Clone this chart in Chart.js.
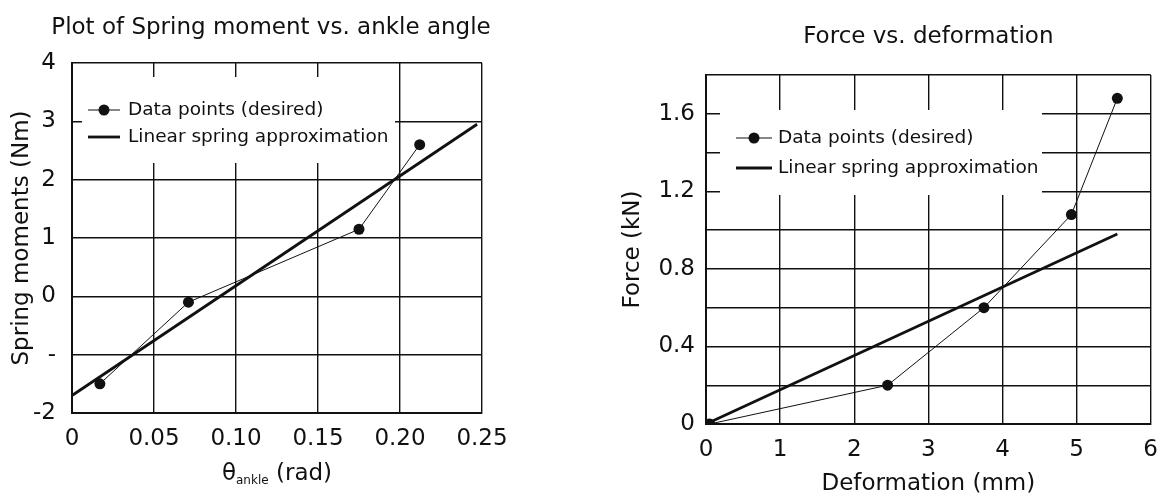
<!DOCTYPE html>
<html>
<head>
<meta charset="utf-8">
<script src="https://cdn.jsdelivr.net/npm/chart.js@4.4.1/dist/chart.umd.min.js"></script>
<style>
  html, body { margin: 0; padding: 0; background: #fff; overflow: hidden; width: 1157px; height: 499px; }
  canvas { position: absolute; top: 0; }
  #moment-chart { left: 0; }
  #force-chart { left: 580px; }
</style>
</head>
<body>
<canvas id="moment-chart" width="542" height="499"></canvas>
<canvas id="force-chart" width="590" height="499"></canvas>
<script>
// left chart: spring moment vs ankle angle
const angleX = [0.017, 0.071, 0.175, 0.212];
const momentY = [-1.5, -0.1, 1.15, 2.6];
const angleFitX = [0, 0.247];
const momentFitY = [-1.7, 2.95];
const angleTickLabels = ["0", "0.05", "0.10", "0.15", "0.20", "0.25"];
const momentTickLabels = ["-2", "-", "0", "1", "2", "3", "4"];

// right chart: force vs deformation
const deformX = [0.05, 2.45, 3.75, 4.93, 5.55];
const forceY = [0, 0.2, 0.6, 1.08, 1.68];
const deformFitX = [0, 5.55];
const forceFitY = [0, 0.98];
const deformTickLabels = ["0", "1", "2", "3", "4", "5", "6"];
const forceTickLabels = ["0", "0.4", "0.8", "1.2", "1.6"];

const seriesLabels = ["Data points (desired)", "Linear spring approximation"];

const FONT = "'DejaVu Sans', sans-serif";
const INK = "#111";

Chart.defaults.font.family = FONT;
Chart.defaults.color = INK;

const toPoints = (xs, ys) => xs.map((x, i) => ({ x: x, y: ys[i] }));

// white box with the two legend rows, drawn over the grid inside the plot
const insetLegend = {
  id: "insetLegend",
  beforeDatasetsDraw(chart, args, opts) {
    const { ctx, chartArea } = chart;
    ctx.save();
    ctx.fillStyle = "#fff";
    ctx.fillRect(chartArea.left + opts.box[0], chartArea.top + opts.box[1], opts.box[2], opts.box[3]);
    ctx.restore();
  },
  afterDatasetsDraw(chart, args, opts) {
    const { ctx, chartArea } = chart;
    const x0 = chartArea.left + opts.lineX[0];
    const x1 = chartArea.left + opts.lineX[1];
    ctx.save();
    chart.data.datasets.forEach((ds, i) => {
      const y = chartArea.top + opts.rows[i];
      ctx.strokeStyle = INK;
      ctx.lineWidth = ds.borderWidth;
      ctx.beginPath();
      ctx.moveTo(x0, y);
      ctx.lineTo(x1, y);
      ctx.stroke();
      if (ds.pointRadius > 0) {
        ctx.fillStyle = INK;
        ctx.beginPath();
        ctx.arc((x0 + x1) / 2, y, ds.pointRadius, 0, Math.PI * 2);
        ctx.fill();
      }
      ctx.fillStyle = INK;
      ctx.font = opts.fontSize + "px " + FONT;
      ctx.textBaseline = "middle";
      ctx.textAlign = "left";
      ctx.fillText(ds.label, chartArea.left + opts.textX, y);
    });
    ctx.restore();
  }
};

// theta with "ankle" as subscript under the left x axis
const thetaTitle = {
  id: "thetaTitle",
  afterDraw(chart, args, opts) {
    if (!opts.y) return;
    const { ctx, chartArea } = chart;
    const big = "23px " + FONT;
    const small = "12px " + FONT;
    ctx.save();
    ctx.fillStyle = INK;
    ctx.textBaseline = "alphabetic";
    ctx.font = big;
    const wTheta = ctx.measureText("\u03b8").width;
    const wRest = ctx.measureText(" (rad)").width;
    ctx.font = small;
    const wSub = ctx.measureText("ankle").width;
    let x = (chartArea.left + chartArea.right) / 2 - (wTheta + wSub + wRest) / 2;
    const base = opts.y;
    ctx.font = big;
    ctx.fillText("\u03b8", x, base);
    x += wTheta;
    ctx.font = small;
    ctx.fillText("ankle", x, base + 4);
    x += wSub;
    ctx.font = big;
    ctx.fillText(" (rad)", x, base);
    ctx.restore();
  }
};

function gridOpts() {
  return { color: INK, lineWidth: 1.4, drawTicks: false };
}

function makeChart(canvasId, cfg) {
  const scales = {
    x: {
      type: "linear",
      min: cfg.xMin,
      max: cfg.xMax,
      afterFit: (scale) => { scale.height = cfg.xHeight; },
      ticks: {
        stepSize: cfg.xStep,
        padding: 12,
        maxRotation: 0,
        font: { size: 23 },
        callback: cfg.xTick
      },
      grid: gridOpts(),
      border: { color: INK, width: 2 },
      title: cfg.xTitle
    },
    y: {
      type: "linear",
      min: cfg.yMin,
      max: cfg.yMax,
      afterFit: (scale) => { scale.width = cfg.yWidth; },
      ticks: {
        stepSize: cfg.yStep,
        padding: cfg.yTickPad,
        font: { size: 23 },
        callback: cfg.yTick
      },
      grid: gridOpts(),
      border: { color: INK, width: 2 },
      title: {
        display: true,
        text: cfg.yTitle,
        font: { size: 23 },
        padding: { top: cfg.yTitlePad, bottom: 0 }
      }
    }
  };
  // empty right-hand axis: keeps room on the right without narrowing the title
  if (cfg.spacer) {
    scales.spacer = {
      type: "linear",
      position: "right",
      afterFit: (scale) => { scale.width = cfg.spacer; },
      ticks: { display: false },
      grid: { display: false },
      border: { display: false }
    };
  }
  return new Chart(document.getElementById(canvasId), {
    type: "scatter",
    data: {
      datasets: [
        {
          label: seriesLabels[0],
          data: toPoints(cfg.xs, cfg.ys),
          showLine: true,
          borderColor: INK,
          backgroundColor: INK,
          borderWidth: 1,
          pointRadius: 5.5,
          pointBorderWidth: 0
        },
        {
          label: seriesLabels[1],
          data: toPoints(cfg.fitXs, cfg.fitYs),
          showLine: true,
          borderColor: INK,
          backgroundColor: INK,
          borderWidth: 2.8,
          pointRadius: 0
        }
      ]
    },
    options: {
      responsive: false,
      animation: false,
      events: [],
      layout: { padding: { left: 0, right: cfg.padRight, top: 0, bottom: 0 } },
      scales: scales,
      plugins: {
        legend: { display: false },
        tooltip: { enabled: false },
        title: {
          display: true,
          fullSize: cfg.titleFull,
          text: cfg.title,
          color: INK,
          font: { size: 23, weight: "normal" },
          padding: cfg.titlePad
        },
        insetLegend: cfg.legend,
        thetaTitle: { y: cfg.thetaY }
      }
    },
    plugins: [insetLegend, thetaTitle]
  });
}

makeChart("moment-chart", {
  xs: angleX, ys: momentY, fitXs: angleFitX, fitYs: momentFitY,
  xMin: 0, xMax: 0.25, xStep: 0.05,
  yMin: -2, yMax: 4, yStep: 1,
  xTick: (v, i) => angleTickLabels[i],
  yTick: (v, i) => momentTickLabels[i],
  xHeight: 86, yWidth: 72, yTickPad: 16, yTitlePad: 8.2,
  padRight: 0, spacer: 60,
  xTitle: { display: false },
  yTitle: "Spring moments (Nm)",
  title: "Plot of Spring moment vs. ankle angle",
  titleFull: true,
  titlePad: { top: 14.2, bottom: 21.2 },
  thetaY: 480,
  legend: { box: [10, 14, 313, 86], rows: [47, 74], lineX: [16, 48], textX: 56, fontSize: 18.5 }
});

makeChart("force-chart", {
  xs: deformX, ys: forceY, fitXs: deformFitX, fitYs: forceFitY,
  xMin: 0, xMax: 6, xStep: 1,
  yMin: 0, yMax: 1.8, yStep: 0.2,
  xTick: (v, i) => deformTickLabels[i],
  yTick: (v) => {
    const hit = forceTickLabels.find((t) => Math.abs(Number(t) - v) < 1e-6);
    return hit === undefined ? "" : hit;
  },
  xHeight: 75, yWidth: 126, yTickPad: 11, yTitlePad: 39.2,
  padRight: 18, spacer: 0,
  xTitle: {
    display: true,
    text: "Deformation (mm)",
    font: { size: 23 },
    padding: { top: 0, bottom: 1.2 }
  },
  yTitle: "Force (kN)",
  title: "Force vs. deformation",
  titleFull: false,
  titlePad: { top: 23.2, bottom: 24.2 },
  thetaY: 0,
  legend: { box: [14, 35, 322, 85], rows: [63, 93], lineX: [30, 66], textX: 72, fontSize: 18.5 }
});
</script>
</body>
</html>
